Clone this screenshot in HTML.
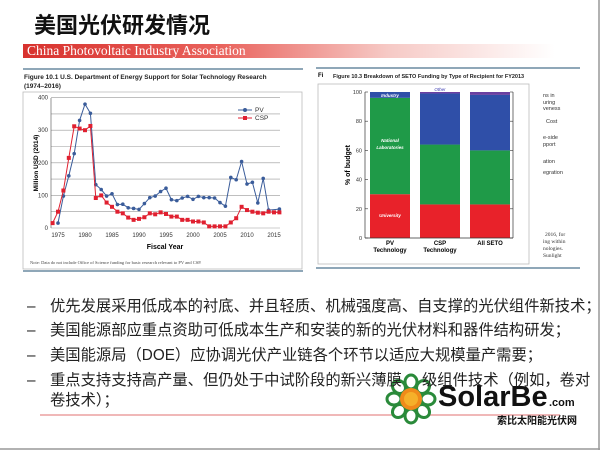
<!DOCTYPE html>
<html><head><meta charset="utf-8"><style>
body{margin:0;width:600px;height:450px;background:#fff;overflow:hidden;position:relative;font-family:"Liberation Sans","Noto Sans CJK SC",sans-serif}
.t{position:absolute;left:34px;top:8px;font-size:22px;font-weight:bold;color:#111}
.ban{position:absolute;left:23px;top:44px;width:560px;height:14px;background:linear-gradient(90deg,#d8322e 0%,#e9625c 35%,#f6c9c5 65%,#fff 95%)}
.ban span{position:absolute;left:4px;top:-1px;font-family:"Liberation Serif",serif;font-size:13.5px;color:#fff}
.b{position:absolute;left:27px;font-size:15.3px;line-height:20px;color:#222;white-space:nowrap}
.b i{font-style:normal;position:absolute;left:0;top:0}
.b span{position:absolute;left:23px;top:0;white-space:nowrap}
</style></head><body>
<div class="t">美国光伏研发情况</div>
<div class="ban"><span>China Photovoltaic Industry Association</span></div>
<svg id="s" width="600" height="450" style="position:absolute;left:0;top:0" font-family="Liberation Sans, sans-serif">
<line x1="23" y1="69" x2="303" y2="69" stroke="#6a8aa0" stroke-width="1.5"/>
<line x1="23" y1="271" x2="303" y2="271" stroke="#6a8aa0" stroke-width="1.5"/>
<text x="24" y="79" font-size="6.5" font-weight="bold" fill="#222">Figure 10.1  U.S. Department of Energy Support for Solar Technology Research</text>
<text x="24" y="88" font-size="6.5" font-weight="bold" fill="#222">(1974–2016)</text>
<rect x="23" y="92" width="279" height="177" fill="none" stroke="#bbb" stroke-width="0.8"/>
<text x="30" y="264" font-size="4.5" fill="#444" font-family="Liberation Serif,serif">Note: Data do not include Office of Science funding for basic research relevant to PV and CSP.</text>
<g id="lc"></g>
<line x1="316" y1="68" x2="580" y2="68" stroke="#6a8aa0" stroke-width="1.5"/>
<line x1="316" y1="268" x2="580" y2="268" stroke="#6a8aa0" stroke-width="1.5"/>
<rect x="318" y="84" width="211" height="180" fill="none" stroke="#bbb" stroke-width="0.8"/>
<text x="318" y="77" font-size="6" font-weight="bold">Fi</text>
<text x="333" y="78" font-size="5.5" font-weight="bold" fill="#222">Figure 10.3  Breakdown of SETO Funding by Type of Recipient for FY2013</text>
<g id="bc"></g>
<g font-size="5.5" fill="#333"><text x="543" y="97">ns in</text><text x="543" y="104">uring</text><text x="543" y="110">veness</text><text x="546" y="123">Cost</text><text x="543" y="139">e-side</text><text x="543" y="146">pport</text><text x="543" y="163">ation</text><text x="543" y="174">egration</text>
<text x="545" y="236" font-family="Liberation Serif,serif">2016, for</text><text x="543" y="243" font-family="Liberation Serif,serif">ing within</text><text x="543" y="250" font-family="Liberation Serif,serif">nologies.</text><text x="543" y="257" font-family="Liberation Serif,serif">Sunlight</text></g>
<line x1="40" y1="415" x2="560" y2="415" stroke="#f0b8b8" stroke-width="2"/>
<g transform="translate(411,399)"><g id="fl"></g><circle r="11" fill="#f08a1a"/><circle r="7" fill="#f5b02a"/></g>
<text x="438" y="406" font-size="29" font-weight="bold" fill="#111">SolarBe</text>
<text x="549" y="406" font-size="11" font-weight="bold" fill="#111">.com</text>
<text x="497" y="424" font-size="10" font-weight="bold" fill="#111" font-family="Liberation Sans,Noto Sans CJK SC,sans-serif">索比太阳能光伏网</text>
<line x1="0" y1="449" x2="600" y2="449" stroke="#999" stroke-width="1.5"/>
<line x1="599" y1="0" x2="599" y2="450" stroke="#999" stroke-width="1.5"/>
</svg>
<div class="b" style="top:297px"><i>–</i><span>优先发展采用低成本的衬底、并且轻质、机械强度高、自支撑的光伏组件新技术；</span></div>
<div class="b" style="top:321px"><i>–</i><span>美国能源部应重点资助可低成本生产和安装的新的光伏材料和器件结构研发；</span></div>
<div class="b" style="top:346px"><i>–</i><span>美国能源局（DOE）应协调光伏产业链各个环节以适应大规模量产需要；</span></div>
<div class="b" style="top:371px"><i>–</i><span>重点支持支持高产量、但仍处于中试阶段的新兴薄膜</span><span style="left:395px">级组件技术（例如，卷对</span></div>
<div class="b" style="top:391px"><span>卷技术）；</span></div>
<script>
var NS="http://www.w3.org/2000/svg";
function el(p,t,a,txt){var e=document.createElementNS(NS,t);for(var k in a)e.setAttribute(k,a[k]);if(txt!=null)e.textContent=txt;p.appendChild(e);return e;}
var lc=document.getElementById('lc');
var X=function(y){return 58+(y-1975)*5.4},Y=function(v){return 228-v*0.326};
for(var v=0;v<=400;v+=50){el(lc,'line',{x1:51,x2:280,y1:Y(v),y2:Y(v),stroke:'#999','stroke-width':0.6});}
el(lc,'line',{x1:51,x2:51,y1:98,y2:228,stroke:'#666','stroke-width':0.7});
[0,100,200,300,400].forEach(function(v){el(lc,'text',{x:48,y:Y(v)+2,'font-size':6,'text-anchor':'end',fill:'#333'},v);});
for(var y=1975;y<=2015;y+=5){el(lc,'text',{x:X(y),y:237,'font-size':6,'text-anchor':'middle',fill:'#333'},y);}
el(lc,'text',{x:165,y:249,'font-size':7,'font-weight':'bold','text-anchor':'middle'},'Fiscal Year');
el(lc,'text',{transform:'translate(38,163) rotate(-90)','font-size':6.5,'font-weight':'bold','text-anchor':'middle'},'Million USD (2014)');
var pv=[[1975,15],[1976,98],[1977,160],[1978,228],[1979,330],[1980,380],[1981,352],[1982,133],[1983,118],[1984,98],[1985,105],[1986,72],[1987,73],[1988,62],[1989,60],[1990,57],[1991,75],[1992,93],[1993,98],[1994,112],[1995,122],[1996,87],[1997,84],[1998,92],[1999,97],[2000,88],[2001,97],[2002,93],[2003,93],[2004,92],[2005,78],[2006,67],[2007,155],[2008,148],[2009,204],[2010,135],[2011,140],[2012,77],[2013,152],[2014,55],[2016,58]];
var csp=[15,50,115,215,312,305,300,313,92,100,78,65,50,45,32,25,28,33,45,42,48,43,35,35,25,25,20,20,17,5,5,5,5,17,30,65,55,50,47,45,50,48,48].map(function(v,i){return [1974+i,v]});
function ser(d,c,m){el(lc,'polyline',{points:d.map(function(p){return X(p[0])+','+Y(p[1])}).join(' '),fill:'none',stroke:c,'stroke-width':1});
d.forEach(function(p){if(m)el(lc,'circle',{cx:X(p[0]),cy:Y(p[1]),r:1.8,fill:c});else el(lc,'rect',{x:X(p[0])-2,y:Y(p[1])-2,width:4,height:4,fill:c});});}
ser(pv,'#3a5c9a',1);ser(csp,'#e02030',0);
el(lc,'line',{x1:238,x2:252,y1:110,y2:110,stroke:'#3a5c9a'});el(lc,'circle',{cx:245,cy:110,r:2,fill:'#3a5c9a'});
el(lc,'text',{x:255,y:112,'font-size':6.5,fill:'#333'},'PV');
el(lc,'line',{x1:238,x2:252,y1:118,y2:118,stroke:'#e02030'});el(lc,'rect',{x:243,y:116,width:4,height:4,fill:'#e02030'});
el(lc,'text',{x:255,y:120,'font-size':6.5,fill:'#333'},'CSP');
var bc=document.getElementById('bc');
var BY=function(v){return 238-v*1.46};
var cols={r:'#e8222a',g:'#1f9a48',b:'#2f4fa8',p:'#6a3fa0'};
[[370,[[0,30,'r'],[30,96,'g'],[96,100,'b']]],[420,[[0,23,'r'],[23,64,'g'],[64,99,'b'],[99,100,'p']]],[470,[[0,23,'r'],[23,60,'g'],[60,98,'b'],[98,100,'p']]]].forEach(function(b){
b[1].forEach(function(s){el(bc,'rect',{x:b[0],y:BY(s[1]),width:40,height:BY(s[0])-BY(s[1]),fill:cols[s[2]]});});});
el(bc,'line',{x1:365,x2:365,y1:92,y2:238,stroke:'#333','stroke-width':0.7});
el(bc,'line',{x1:513,x2:513,y1:92,y2:238,stroke:'#333','stroke-width':0.7});
el(bc,'line',{x1:365,x2:513,y1:238,y2:238,stroke:'#333','stroke-width':0.7});
[0,20,40,60,80,100].forEach(function(v){el(bc,'text',{x:362,y:BY(v)+2,'font-size':5.5,'text-anchor':'end',fill:'#333'},v);
el(bc,'line',{x1:365,x2:368,y1:BY(v),y2:BY(v),stroke:'#333','stroke-width':0.6});el(bc,'line',{x1:510,x2:513,y1:BY(v),y2:BY(v),stroke:'#333','stroke-width':0.6});});
el(bc,'text',{transform:'translate(350,165) rotate(-90)','font-size':7,'font-weight':'bold','text-anchor':'middle'},'% of budget');
[[390,'PV'],[440,'CSP'],[490,'All SETO']].forEach(function(t){el(bc,'text',{x:t[0],y:245,'font-size':6,'font-weight':'bold','text-anchor':'middle'},t[1]);});
el(bc,'text',{x:390,y:252,'font-size':6,'font-weight':'bold','text-anchor':'middle'},'Technology');
el(bc,'text',{x:440,y:252,'font-size':6,'font-weight':'bold','text-anchor':'middle'},'Technology');
el(bc,'text',{x:390,y:97,'font-size':4.5,'font-weight':'bold','font-style':'italic','text-anchor':'middle',fill:'#fff'},'Industry');
el(bc,'text',{x:440,y:91,'font-size':4.5,'font-style':'italic','text-anchor':'middle',fill:'#3a3ab0'},'Other');
el(bc,'text',{x:390,y:142,'font-size':4.5,'font-weight':'bold','font-style':'italic','text-anchor':'middle',fill:'#fff'},'National');
el(bc,'text',{x:390,y:149,'font-size':4.5,'font-weight':'bold','font-style':'italic','text-anchor':'middle',fill:'#fff'},'Laboratories');
el(bc,'text',{x:390,y:217,'font-size':4.5,'font-weight':'bold','font-style':'italic','text-anchor':'middle',fill:'#fff'},'University');
var fl=document.getElementById('fl');
for(var i=0;i<8;i++){var a=i*Math.PI/4;el(fl,'ellipse',{cx:Math.cos(a)*17,cy:Math.sin(a)*17,rx:7,ry:6,fill:'#fff',stroke:'#2a8a3a','stroke-width':3,transform:'rotate('+(i*45)+' '+Math.cos(a)*17+' '+Math.sin(a)*17+')'});}
</script>
</body></html>
